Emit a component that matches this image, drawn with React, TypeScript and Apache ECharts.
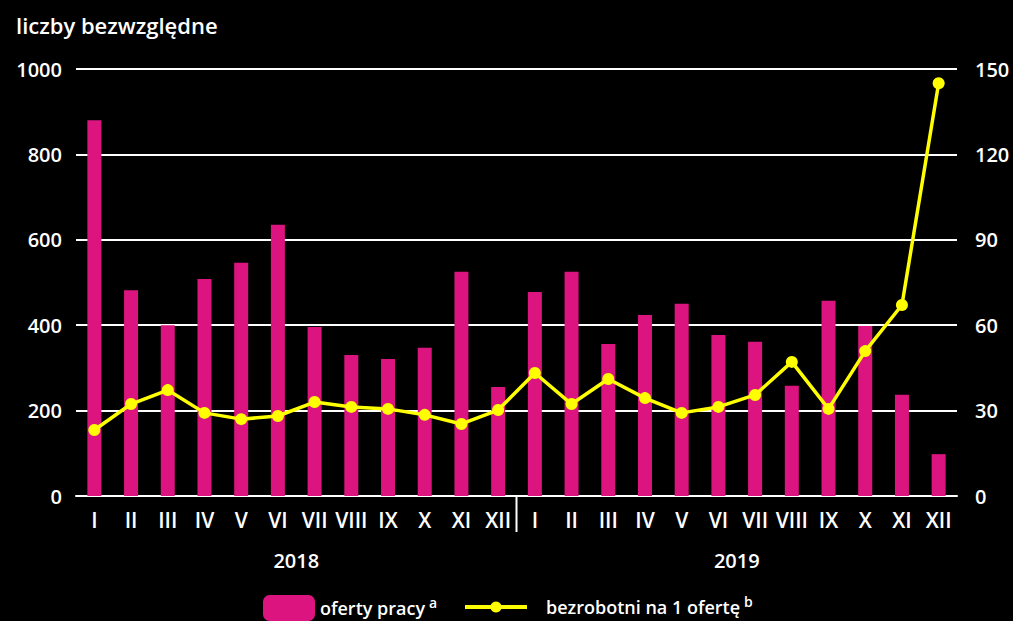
import React, { useEffect, useRef } from 'react';
import * as echarts from 'echarts';

const monthLabels = ['I', 'II', 'III', 'IV', 'V', 'VI', 'VII', 'VIII', 'IX', 'X', 'XI', 'XII'];
const years = ['2018', '2019'];
const categories = [...monthLabels, ...monthLabels];
const jobOffers = [880, 482, 400, 508, 546, 635, 396, 330, 321, 347, 525, 255,
  478, 525, 356, 424, 450, 377, 361, 258, 457, 398, 237, 98];
const unemployedPerOffer = [23.2, 32.3, 37.2, 29.2, 27, 28.1, 33, 31.3, 30.6, 28.5, 25.3, 30.2,
  43.2, 32.3, 41.1, 34.4, 29.2, 31.3, 35.5, 47.1, 30.6, 50.9, 67.1, 145];
const leftTicks = { min: 0, max: 1000, interval: 200 };
const rightTicks = { min: 0, max: 150, interval: 30 };

const FONT = '"Open Sans", sans-serif';
const MAGENTA = '#db1480';
const YELLOW = '#ffff00';

export default function App() {
  const ref = useRef<HTMLDivElement>(null);
  useEffect(() => {
    if (!ref.current) return;
    const chart = echarts.init(ref.current, null, { renderer: 'svg' });
    const labelStyle = { color: '#ffffff', fontFamily: FONT, fontSize: 20, fontWeight: 600 };
    const richLegend = (padLeft: number) => ({
      color: '#ffffff',
      fontFamily: FONT,
      fontSize: 18,
      fontWeight: 600,
      rich: {
        t: { color: '#ffffff', fontFamily: FONT, fontSize: 18, fontWeight: 600, lineHeight: 26, padding: [0, 0, 0, padLeft] },
        s: { color: '#ffffff', fontFamily: FONT, fontSize: 14, fontWeight: 600, lineHeight: 14, verticalAlign: 'top', padding: [0, 0, 0, 4] },
      },
    });
    chart.setOption({
      animation: false,
      backgroundColor: '#000000',
      textStyle: { fontFamily: FONT },
      title: {
        text: 'liczby bezwzględne',
        left: 11,
        top: 9,
        textStyle: { color: '#ffffff', fontFamily: FONT, fontSize: 22, fontWeight: 600 },
      },
      grid: { left: 76, right: 56, top: 69, bottom: 125 },
      legend: [
        {
          data: ['oferty pracy'],
          left: 263,
          top: 595,
          padding: 0,
          itemWidth: 52,
          itemHeight: 26,
          textStyle: richLegend(0),
          formatter: '{t|oferty pracy}{s|a}',
        },
        {
          data: ['bezrobotni na 1 ofertę'],
          left: 463,
          top: 594,
          padding: 0,
          itemWidth: 62,
          itemHeight: 14,
          lineStyle: { width: 4 },
          textStyle: richLegend(14),
          formatter: '{t|bezrobotni na 1 ofertę}{s|b}',
        },
      ],
      xAxis: [
        {
          type: 'category',
          data: categories,
          position: 'bottom',
          axisLine: { show: true, lineStyle: { color: '#ffffff', width: 2 } },
          axisTick: { show: false },
          axisLabel: { ...labelStyle, fontSize: 21, margin: 13, interval: 0 },
        },
        {
          type: 'category',
          data: years,
          position: 'bottom',
          axisLine: { show: false },
          axisTick: { show: false },
          axisLabel: { ...labelStyle, margin: 54, interval: 0 },
        },
      ],
      yAxis: [
        {
          type: 'value',
          ...leftTicks,
          axisLine: { show: false },
          axisTick: { show: false },
          splitLine: { show: true, lineStyle: { color: '#ffffff', width: 2 } },
          axisLabel: { ...labelStyle, margin: 14, formatter: (v: number) => String(v) },
        },
        {
          type: 'value',
          ...rightTicks,
          position: 'right',
          axisLine: { show: false },
          axisTick: { show: false },
          splitLine: { show: false },
          axisLabel: { ...labelStyle, margin: 18, formatter: (v: number) => String(v) },
        },
      ],
      series: [
        {
          name: 'oferty pracy',
          type: 'bar',
          data: jobOffers,
          barWidth: 14,
          itemStyle: { color: MAGENTA },
          xAxisIndex: 0,
          yAxisIndex: 0,
        },
        {
          name: 'bezrobotni na 1 ofertę',
          type: 'line',
          data: unemployedPerOffer,
          xAxisIndex: 0,
          yAxisIndex: 1,
          symbol: 'circle',
          symbolSize: 12,
          lineStyle: { color: YELLOW, width: 3.5 },
          itemStyle: { color: YELLOW },
          z: 5,
        },
      ],
    });
    // year separator between XII (2018) and I (2019)
    const x1 = chart.convertToPixel({ xAxisIndex: 0 }, 11) as number;
    const x2 = chart.convertToPixel({ xAxisIndex: 0 }, 12) as number;
    const y0 = chart.convertToPixel({ yAxisIndex: 0 }, 0) as number;
    const xm = (x1 + x2) / 2;
    chart.setOption({
      graphic: [
        {
          type: 'line',
          shape: { x1: xm, y1: y0, x2: xm, y2: y0 + 36 },
          style: { stroke: '#ffffff', lineWidth: 2 },
        },
      ],
    });
    return () => chart.dispose();
  }, []);
  return <div ref={ref} style={{ width: 1013, height: 621, position: 'absolute', left: 0, top: 0 }} />;
}
